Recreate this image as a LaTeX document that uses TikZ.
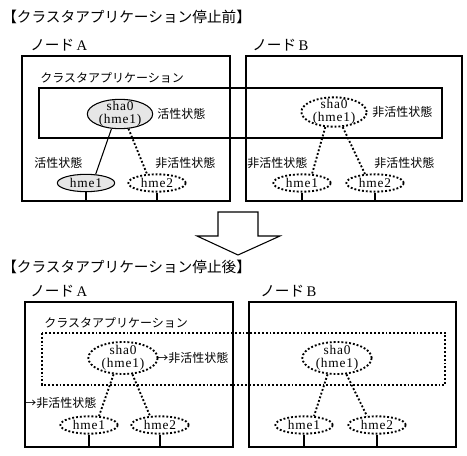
\documentclass[tikz,border=0pt]{standalone}
\usepackage{fontspec}
\setmainfont{Liberation Serif}
\newfontfamily\jp{Noto Sans CJK JP}
\newfontfamily\lat[LetterSpace=6]{Liberation Serif}
\usetikzlibrary{shapes.geometric}
\definecolor{gris}{RGB}{230,230,230}

\begin{document}
\begin{tikzpicture}[x=0.75pt,y=-0.75pt,
	caja/.style={line width=0.8pt},
	punteado/.style={line width=1.4pt, dash pattern=on 1.4pt off 1.5pt},
	sha/.style={ellipse, draw, line width=0.8pt, minimum width=49pt, minimum height=22pt, inner xsep=0pt, inner ysep=-3.5pt, align=center, font=\fontsize{10}{10}\lat},
	hme/.style={ellipse, draw, line width=0.8pt, minimum width=43pt, minimum height=13pt, inner sep=0pt, font=\fontsize{10}{10}\lat},
	etiq/.style={anchor=west, inner sep=0pt, font=\fontsize{9}{10}\jp},
	titulo/.style={anchor=west, inner sep=0pt, font=\fontsize{11}{12}\jp}]
		\useasboundingbox (0,0) rectangle (467,456);
		% antes
		\node[titulo] (tit1) at (2,17) {【クラスタアプリケーション停止前】};
		\node[titulo] (ndA1) at (30,45) {ノード\,\textrm{A}};
		\node[titulo] (ndB1) at (252,45) {ノード\,\textrm{B}};
		\draw[caja] (22,56) rectangle (230,201); % nodo A
		\draw[caja] (246,56) rectangle (462,201); % nodo B
		\coordinate (base1) at (0,201);
		\node[etiq] (app1) at (40,78) {クラスタアプリケーション};
		\draw[caja] (39,88) rectangle (442,138);
		\node[sha, fill=gris] (shaA1) at (120,114) {sha0\\(hme1)};
		\node[etiq] (estA1) at (157,114) {活性状態};
		\node[hme, fill=gris] (hmeuA1) at (86,183) {hme1};
		\node[hme, punteado] (hmedA1) at (157,183) {hme2};
		\node[etiq] (estuA1) at (34,163) {活性状態};
		\node[etiq] (estdA1) at (155,163) {非活性状態};
		\draw[caja] (shaA1.240) -- (hmeuA1.42);
		\draw[punteado] (shaA1.300) -- (hmedA1.138);
		\draw[caja] (hmeuA1.south) -- (hmeuA1.south |- base1);
		\draw[caja] (hmedA1.south) -- (hmedA1.south |- base1);
		\node[sha, punteado] (shaB1) at (334,112) {sha0\\(hme1)};
		\node[etiq] (estB1) at (372,112) {非活性状態};
		\node[hme, punteado] (hmeuB1) at (302,183) {hme1};
		\node[hme, punteado] (hmedB1) at (375,183) {hme2};
		\node[etiq] (estuB1) at (247,163) {非活性状態};
		\node[etiq] (estdB1) at (374,163) {非活性状態};
		\draw[punteado] (shaB1.240) -- (hmeuB1.42);
		\draw[punteado] (shaB1.300) -- (hmedB1.138);
		\draw[caja] (hmeuB1.south) -- (hmeuB1.south |- base1);
		\draw[caja] (hmedB1.south) -- (hmedB1.south |- base1);
		% flecha
		\draw[caja] (218,212) -- (258,212) -- (258,236) -- (280,236) -- (238,255) -- (197,236) -- (218,236) -- cycle;
		% despues
		\node[titulo] (tit2) at (2,267) {【クラスタアプリケーション停止後】};
		\node[titulo] (ndA2) at (30,291) {ノード\,\textrm{A}};
		\node[titulo] (ndB2) at (260,291) {ノード\,\textrm{B}};
		\draw[caja] (25,302) rectangle (233,447); % nodo A
		\draw[caja] (249,302) rectangle (456,447); % nodo B
		\coordinate (base2) at (0,447);
		\node[etiq] (app2) at (44,323) {クラスタアプリケーション};
		\draw[punteado] (42,333) rectangle (445,385);
		\node[sha, punteado, minimum width=52pt, minimum height=24pt] (shaA2) at (123,358) {sha0\\(hme1)};
		\node[etiq] (estA2) at (156,358) {→非活性状態};
		\node[hme, punteado] (hmeuA2) at (89,425) {hme1};
		\node[hme, punteado] (hmedA2) at (160,425) {hme2};
		\node[etiq] (estuA2) at (24,403) {→非活性状態};
		\draw[punteado] (shaA2.240) -- (hmeuA2.42);
		\draw[punteado] (shaA2.300) -- (hmedA2.138);
		\draw[caja] (hmeuA2.south) -- (hmeuA2.south |- base2);
		\draw[caja] (hmedA2.south) -- (hmedA2.south |- base2);
		\node[sha, punteado, minimum width=52pt, minimum height=24pt] (shaB2) at (337,358) {sha0\\(hme1)};
		\node[hme, punteado] (hmeuB2) at (304,425) {hme1};
		\node[hme, punteado] (hmedB2) at (377,425) {hme2};
		\draw[punteado] (shaB2.240) -- (hmeuB2.42);
		\draw[punteado] (shaB2.300) -- (hmedB2.138);
		\draw[caja] (hmeuB2.south) -- (hmeuB2.south |- base2);
		\draw[caja] (hmedB2.south) -- (hmedB2.south |- base2);
\end{tikzpicture}
\end{document}
